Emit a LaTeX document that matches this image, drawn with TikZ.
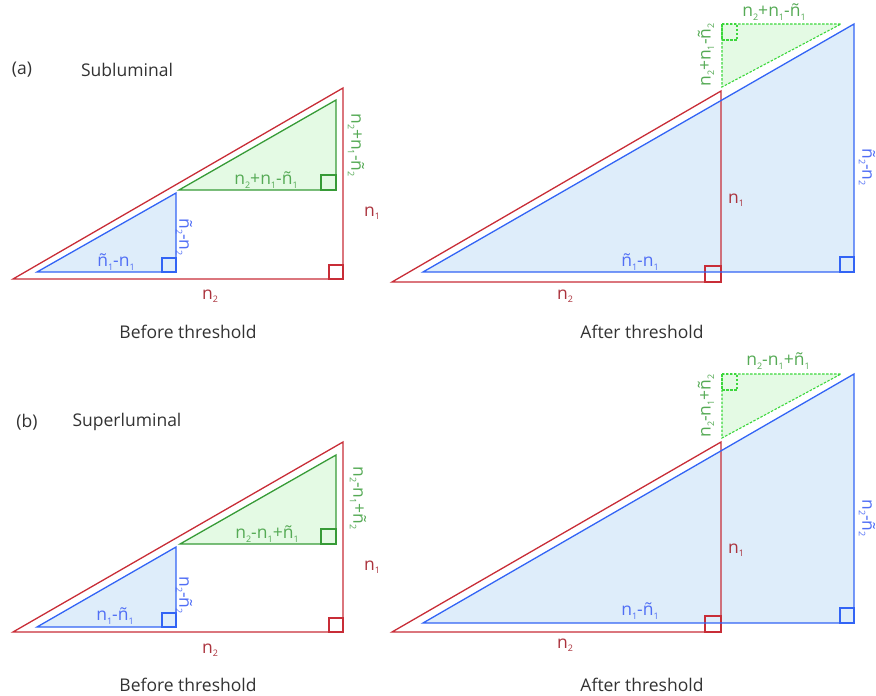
\documentclass[tikz,border=0pt]{standalone}
\usepackage{fontspec}
\setmainfont{Open Sans}
\definecolor{cred}{RGB}{200,45,55}
\definecolor{credtext}{RGB}{170,50,60}
\definecolor{cblue}{RGB}{50,100,245}
\definecolor{cbluetext}{RGB}{80,110,245}
\definecolor{cbluefill}{RGB}{222,237,250}
\definecolor{cgreen}{RGB}{55,155,55}
\definecolor{cgreentext}{RGB}{85,170,85}
\definecolor{cgreenfill}{RGB}{228,250,228}
\definecolor{clime}{RGB}{60,215,60}
\definecolor{ctext}{RGB}{50,50,50}
\newcommand{\sbs}[1]{\raisebox{-3.4pt}{\fontsize{9}{9}\selectfont #1}}
\begin{document}
\begin{tikzpicture}[x=1pt,y=-1pt,
  redline/.style={draw=cred,line width=1.3pt,line join=miter},
  blueline/.style={draw=cblue,line width=1.3pt},
  bluefill/.style={fill=cbluefill},
  greenline/.style={draw=cgreen,line width=1.3pt,fill=cgreenfill},
  limeline/.style={draw=clime,line width=1.1pt,dash pattern=on 2.5pt off 1.5pt,fill=cgreenfill},
  lbl/.style={font=\fontsize{17.5}{19}\selectfont,inner sep=0pt},
  redlbl/.style={lbl,text=credtext},
  bluelbl/.style={lbl,text=cbluetext},
  greenlbl/.style={lbl,text=cgreentext},
  captxt/.style={font=\fontsize{17.5}{20}\selectfont,text=ctext,inner sep=0pt}]
\useasboundingbox (0,0) rectangle (876,696);

% ===== (a) before =====
\coordinate (aL1) at (13,279); \coordinate (aL2) at (343,279); \coordinate (aL3) at (343,88);
\coordinate (aB1) at (37,272); \coordinate (aB2) at (176,272); \coordinate (aB3) at (176,193);
\coordinate (aG1) at (179,190); \coordinate (aG2) at (336,190); \coordinate (aG3) at (336,100);
\fill[bluefill] (aB1) -- (aB2) -- (aB3) -- cycle;
\draw[blueline] (aB1) -- (aB2) -- (aB3) -- cycle;
\draw[blueline] (aB2) ++(-14,0) rectangle ++(14,-14);
\draw[greenline] (aG1) -- (aG2) -- (aG3) -- cycle;
\draw[greenline] (aG2) ++(-15,0) rectangle ++(15,-15);
\draw[redline] (aL1) -- (aL2) -- (aL3) -- cycle;
\draw[redline] (aL2) ++(-14,0) rectangle ++(14,-14);
\node[captxt] (atag) at (22,70) {(a)};
\node[captxt] (atitle) at (127,70) {Subluminal};
\node[greenlbl] (aglab) at (266,180) {n\sbs{2}+n\sbs{1}-ñ\sbs{1}};
\node[greenlbl,rotate=-90] (aglabv) at (356,145) {n\sbs{2}+n\sbs{1}-ñ\sbs{2}};
\node[bluelbl] (ablab) at (116,262) {ñ\sbs{1}-n\sbs{1}};
\node[bluelbl,rotate=-90] (ablabv) at (184,237) {ñ\sbs{2}-n\sbs{2}};
\node[redlbl] (arn1) at (372,213) {n\sbs{1}};
\node[redlbl] (arn2) at (210,296) {n\sbs{2}};
\node[captxt] (acap1) at (188,332) {Before threshold};

% ===== (a) after =====
\coordinate (aR1) at (392,282); \coordinate (aR2) at (721,282); \coordinate (aR3) at (721,91);
\coordinate (aP1) at (423,272); \coordinate (aP2) at (854,272); \coordinate (aP3) at (854,24);
\coordinate (aQ1) at (722,24); \coordinate (aQ2) at (841,24); \coordinate (aQ3) at (722,87);
\fill[bluefill] (aP1) -- (aP2) -- (aP3) -- cycle;
\draw[redline] (aR1) -- (aR2) -- (aR3) -- cycle;
\draw[redline] (aR2) ++(-16,0) rectangle ++(16,-16);
\draw[blueline] (aP1) -- (aP2) -- (aP3) -- cycle;
\draw[blueline] (aP2) ++(-14,0) rectangle ++(14,-15);
\draw[limeline] (aQ1) -- (aQ2) -- (aQ3) -- cycle;
\draw[limeline,fill=none] (aQ1) rectangle ++(15,16);
\node[greenlbl] (aqlab) at (774,12) {n\sbs{2}+n\sbs{1}-ñ\sbs{1}};
\node[greenlbl,rotate=90] (aqlabv) at (706,55) {n\sbs{2}+n\sbs{1}-ñ\sbs{2}};
\node[bluelbl] (aplab) at (640,262) {ñ\sbs{1}-n\sbs{1}};
\node[bluelbl,rotate=-90] (aplabv) at (867,167) {ñ\sbs{2}-n\sbs{2}};
\node[redlbl] (arn1b) at (736,200) {n\sbs{1}};
\node[redlbl] (arn2b) at (565,296) {n\sbs{2}};
\node[captxt] (acap2) at (642,332) {After threshold};

% ===== (b) before =====
\coordinate (bL1) at (13,632); \coordinate (bL2) at (343,632); \coordinate (bL3) at (343,442);
\coordinate (bB1) at (37,627); \coordinate (bB2) at (176,627); \coordinate (bB3) at (176,547);
\coordinate (bG1) at (180,544); \coordinate (bG2) at (336,544); \coordinate (bG3) at (336,455);
\fill[bluefill] (bB1) -- (bB2) -- (bB3) -- cycle;
\draw[blueline] (bB1) -- (bB2) -- (bB3) -- cycle;
\draw[blueline] (bB2) ++(-14,0) rectangle ++(14,-14);
\draw[greenline] (bG1) -- (bG2) -- (bG3) -- cycle;
\draw[greenline] (bG2) ++(-15,0) rectangle ++(15,-15);
\draw[redline] (bL1) -- (bL2) -- (bL3) -- cycle;
\draw[redline] (bL2) ++(-14,0) rectangle ++(14,-14);
\node[captxt] (btag) at (27,422) {(b)};
\node[captxt] (btitle) at (127,422) {Superluminal};
\node[greenlbl] (bglab) at (267,534) {n\sbs{2}-n\sbs{1}+ñ\sbs{1}};
\node[greenlbl,rotate=-90] (bglabv) at (358,498) {n\sbs{2}-n\sbs{1}+ñ\sbs{2}};
\node[bluelbl] (bblab) at (115,616) {n\sbs{1}-ñ\sbs{1}};
\node[bluelbl,rotate=-90] (bblabv) at (184,595) {n\sbs{2}-ñ\sbs{2}};
\node[redlbl] (brn1) at (372,567) {n\sbs{1}};
\node[redlbl] (brn2) at (210,650) {n\sbs{2}};
\node[captxt] (bcap1) at (188,685) {Before threshold};

% ===== (b) after =====
\coordinate (bR1) at (392,632); \coordinate (bR2) at (721,632); \coordinate (bR3) at (721,442);
\coordinate (bP1) at (423,623); \coordinate (bP2) at (854,623); \coordinate (bP3) at (854,374);
\coordinate (bQ1) at (722,374); \coordinate (bQ2) at (841,374); \coordinate (bQ3) at (722,438);
\fill[bluefill] (bP1) -- (bP2) -- (bP3) -- cycle;
\draw[redline] (bR1) -- (bR2) -- (bR3) -- cycle;
\draw[redline] (bR2) ++(-16,0) rectangle ++(16,-16);
\draw[blueline] (bP1) -- (bP2) -- (bP3) -- cycle;
\draw[blueline] (bP2) ++(-14,0) rectangle ++(14,-15);
\draw[limeline] (bQ1) -- (bQ2) -- (bQ3) -- cycle;
\draw[limeline,fill=none] (bQ1) rectangle ++(15,16);
\node[greenlbl] (bqlab) at (778,361) {n\sbs{2}-n\sbs{1}+ñ\sbs{1}};
\node[greenlbl,rotate=90] (bqlabv) at (706,406) {n\sbs{2}-n\sbs{1}+ñ\sbs{2}};
\node[bluelbl] (bplab) at (640,611) {n\sbs{1}-ñ\sbs{1}};
\node[bluelbl,rotate=-90] (bplabv) at (867,518) {n\sbs{2}-ñ\sbs{2}};
\node[redlbl] (brn1b) at (736,550) {n\sbs{1}};
\node[redlbl] (brn2b) at (565,645) {n\sbs{2}};
\node[captxt] (bcap2) at (642,685) {After threshold};
\end{tikzpicture}
\end{document}
